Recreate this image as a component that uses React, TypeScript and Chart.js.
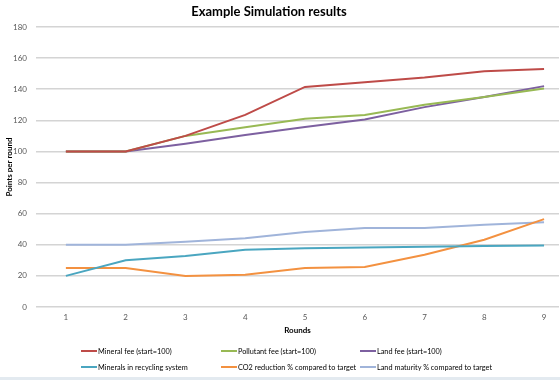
import React, { useEffect, useRef } from "react";
import { Chart, registerables } from "chart.js";

Chart.register(...registerables);

const chartTitle = "Example Simulation results";
const xTitle = "Rounds";
const yTitle = "Points per round";
const rounds = [1, 2, 3, 4, 5, 6, 7, 8, 9];
const mineralFee = [100, 100, 110, 123.5, 141.5, 144.5, 147.5, 151.5, 153];
const pollutantFee = [100, 100, 110, 115.5, 121, 123.5, 130, 135, 140.5];
const landFee = [100, 100, 105, 110.5, 115.7, 120.5, 128.5, 135, 142];
const mineralsRecycling = [20, 30, 32.8, 36.8, 37.8, 38.3, 38.7, 39.2, 39.6];
const co2Reduction = [25, 25, 20, 20.8, 25, 25.7, 33.6, 43.2, 56.5];
const landMaturity = [40, 40, 42, 44.2, 48.2, 50.8, 50.8, 52.8, 54.5];

const seriesNames = [
  "Mineral fee (start=100)",
  "Pollutant fee (start=100)",
  "Land fee (start=100)",
  "Minerals in recycling system",
  "CO2 reduction % compared to target",
  "Land maturity % compared to target",
];
const seriesValues = [mineralFee, pollutantFee, landFee, mineralsRecycling, co2Reduction, landMaturity];
const seriesColors = ["#BE4B48", "#98B954", "#7D60A0", "#4AA6C0", "#F39140", "#A0B4DA"];

const FONT = "Lato, 'Liberation Sans', sans-serif";

export default function App() {
  const ref = useRef<HTMLCanvasElement | null>(null);

  useEffect(() => {
    document.body.style.margin = "0";
    const canvas = ref.current;
    if (!canvas) return;
    const chart = new Chart(canvas, {
      type: "line",
      data: {
        datasets: seriesNames.map((name, i) => ({
          label: name,
          data: seriesValues[i].map((v, j) => ({ x: rounds[j], y: v })),
          borderColor: seriesColors[i],
          backgroundColor: seriesColors[i],
          borderWidth: 2,
          pointRadius: 0,
          tension: 0,
          fill: false,
        })),
      },
      options: {
        responsive: false,
        animation: false,
        devicePixelRatio: 1,
        layout: { padding: { top: 27, right: 1, bottom: 0, left: 0 } },
        plugins: {
          legend: { display: false },
          title: { display: false },
          tooltip: { enabled: false },
        },
        scales: {
          x: {
            type: "linear",
            min: 0.5,
            max: 9.25,
            afterBuildTicks: (s: any) => {
              s.ticks = rounds.map((r) => ({ value: r }));
            },
            afterFit: (s: any) => {
              s.height = 73;
            },
            grid: { display: false, drawTicks: false },
            border: { display: false },
            ticks: {
              padding: 6,
              color: "#595959",
              font: { family: FONT, size: 8 },
              autoSkip: false,
              maxRotation: 0,
            },
            title: {
              display: true,
              text: xTitle,
              color: "#000",
              font: { family: FONT, size: 8, weight: "bold" },
              padding: { top: 0, bottom: 45 },
            },
          },
          y: {
            min: 0,
            max: 180,
            afterFit: (s: any) => {
              s.width = 36;
            },
            ticks: {
              stepSize: 20,
              padding: 9,
              color: "#595959",
              font: { family: FONT, size: 8 },
            },
            grid: { color: "#D4D4D4", lineWidth: 1.5, drawTicks: false },
            border: { display: false },
            title: {
              display: true,
              text: yTitle,
              color: "#000",
              font: { family: FONT, size: 8, weight: "bold" },
              padding: { top: 5, bottom: 0 },
            },
          },
        },
      },
    });
    return () => chart.destroy();
  }, []);

  const legendCols = [81, 221, 360];
  const legendRows = [351, 367];

  return (
    <div style={{ position: "relative", width: 560, height: 380, background: "#fff", overflow: "hidden", fontFamily: FONT }}>
      <canvas ref={ref} width={560} height={380} style={{ position: "absolute", left: 0, top: 0 }} />
      <div
        style={{
          position: "absolute",
          left: 0,
          top: 2,
          width: 538,
          textAlign: "center",
          fontWeight: "bold",
          fontSize: 13,
          lineHeight: "18px",
          color: "#000",
        }}
      >
        {chartTitle}
      </div>
      {seriesNames.map((name, i) => {
        const col = i % 3;
        const row = Math.floor(i / 3);
        return (
          <div
            key={name}
            style={{
              position: "absolute",
              left: legendCols[col],
              top: legendRows[row] - 6,
              height: 12,
              display: "flex",
              alignItems: "center",
              fontSize: 7.3,
              color: "#000",
              whiteSpace: "nowrap",
            }}
          >
            <span style={{ display: "inline-block", width: 16, height: 2, background: seriesColors[i], marginRight: 1 }} />
            <span>{name}</span>
          </div>
        );
      })}
      <div style={{ position: "absolute", left: 0, top: 377, width: 560, height: 3, background: "#E3EAF0" }} />
    </div>
  );
}
